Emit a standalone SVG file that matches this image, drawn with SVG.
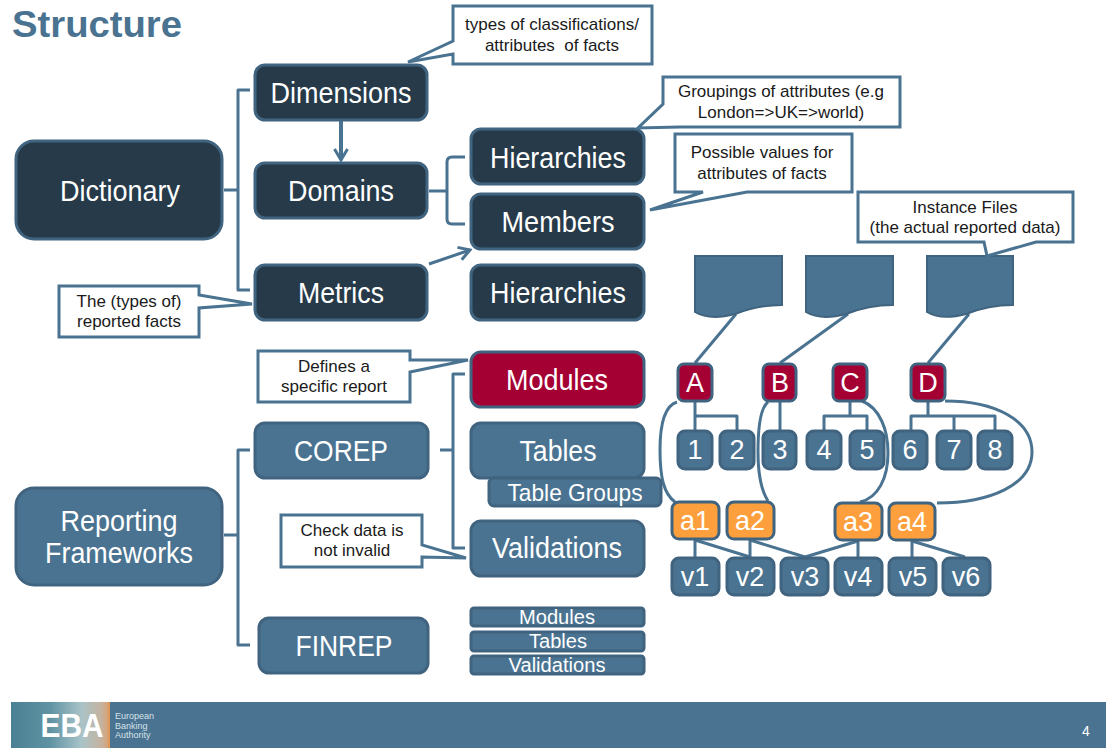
<svg xmlns="http://www.w3.org/2000/svg" width="1106" height="748" viewBox="0 0 1106 748">
<style>
text{font-family:"Liberation Sans",Arial,sans-serif;text-anchor:middle}
.dk rect,.dk path{fill:#263a49}
.md rect,.md path{fill:#4a7391}
.rd rect{fill:#a50034}
.or rect{fill:#fd9f3c}
.n rect{stroke:#40647f;stroke-width:3}
.n path{stroke:#40647f;stroke-width:2}
.t{fill:#fff;font-size:29px}
.u{fill:#fff;font-size:27px}
.c path{fill:#fff;stroke:#4a7391;stroke-width:3;stroke-linejoin:miter}
.c text{fill:#1a1a1a;font-size:17px}
.w{fill:none;stroke:#4a7391;stroke-width:3;stroke-linejoin:round}
.th{stroke-width:4}
</style>
<defs>
<marker id="ah" markerUnits="userSpaceOnUse" markerWidth="16" markerHeight="16" refX="14" refY="8" orient="auto"><path d="M3 1.5L14 8L3 14.5" fill="none" stroke="#4a7391" stroke-width="3"/></marker>
<linearGradient id="lg" x1="0" x2="1" y1="0" y2="0"><stop offset="0" stop-color="#4a8093"/><stop offset=".4" stop-color="#5f93a3"/><stop offset=".72" stop-color="#a9c3c8"/><stop offset=".92" stop-color="#c4b3a0"/><stop offset="1" stop-color="#d9a070"/></linearGradient>
</defs>
<text x="97" y="37" fill="#4a7391" font-size="36" font-weight="700" textLength="170" lengthAdjust="spacingAndGlyphs">Structure</text>
<g id="connectors">
<path class="w" d="M224 190H238M250 90H238V290H250"/>
<path class="w th" d="M341 121V160" marker-end="url(#ah)"/>
<path class="w" d="M429 191H447M465 157H452Q447 157 447 162V219Q447 224 452 224H465"/>
<path class="w" d="M429 264L470 250" marker-end="url(#ah)"/>
<path class="w" d="M224 535H238M250 450H238V645H250"/>
<path class="w" d="M440 450H453M465 374H453V548H465"/>
<path class="w" d="M736 314L695 363M848 314L780 363M969 314L928 363"/>
<path class="w" d="M695 402V430M695 416H737V430"/>
<path class="w" d="M780 402V430"/>
<path class="w" d="M850 402V416M824 430V416H867V430"/>
<path class="w" d="M928 402V416M911 430V416H995V430M954 416V430"/>
<path class="w" d="M677 402C664 406 660 425 660 450C660 478 664 494 675 502"/>
<path class="w" d="M768 402C760 408 758 430 758 452C758 475 761 490 768 501"/>
<path class="w" d="M862 401C880 408 888 430 888 453C888 478 878 498 860 502"/>
<path class="w" d="M945 401C995 401 1032 420 1032 452C1032 485 990 503 937 503"/>
<path class="w" d="M695 540V557M695 540L750 557M750 540V557M750 540L805 557M858 541V557M858 541L805 557M912 541V557M912 541L965 557"/>
</g>
<g id="dictionary" class="n dk"><rect x="16" y="141" width="206" height="98" rx="18"/><text class="t" x="120" y="201" textLength="120" lengthAdjust="spacingAndGlyphs">Dictionary</text></g>
<g id="dimensions" class="n dk"><rect x="255" y="65" width="172" height="55" rx="10"/><text class="t" x="341" y="103" textLength="141" lengthAdjust="spacingAndGlyphs">Dimensions</text></g>
<g id="domains" class="n dk"><rect x="255" y="163" width="172" height="55" rx="10"/><text class="t" x="341" y="201" textLength="106" lengthAdjust="spacingAndGlyphs">Domains</text></g>
<g id="metrics" class="n dk"><rect x="255" y="265" width="172" height="55" rx="10"/><text class="t" x="341" y="303" textLength="86" lengthAdjust="spacingAndGlyphs">Metrics</text></g>
<g id="hierarchies1" class="n dk"><rect x="471" y="129" width="173" height="55" rx="10"/><text class="t" x="558" y="168" textLength="136" lengthAdjust="spacingAndGlyphs">Hierarchies</text></g>
<g id="members" class="n dk"><rect x="471" y="194" width="173" height="55" rx="10"/><text class="t" x="558" y="232" textLength="113" lengthAdjust="spacingAndGlyphs">Members</text></g>
<g id="hierarchies2" class="n dk"><rect x="471" y="265" width="173" height="55" rx="10"/><text class="t" x="558" y="303" textLength="136" lengthAdjust="spacingAndGlyphs">Hierarchies</text></g>
<g id="modules" class="n rd"><rect x="471" y="352" width="173" height="55" rx="10"/><text class="t" x="557" y="390" textLength="102" lengthAdjust="spacingAndGlyphs">Modules</text></g>
<g id="tables" class="n md"><rect x="471" y="423" width="173" height="55" rx="10"/><text class="t" x="558" y="461" textLength="77" lengthAdjust="spacingAndGlyphs">Tables</text></g>
<g id="table-groups" class="n md"><rect x="489" y="478" width="172" height="28" rx="5"/><text x="575" y="501" fill="#fff" font-size="24" textLength="135" lengthAdjust="spacingAndGlyphs">Table Groups</text></g>
<g id="validations" class="n md"><rect x="471" y="521" width="173" height="55" rx="10"/><text class="t" x="557" y="558" textLength="130" lengthAdjust="spacingAndGlyphs">Validations</text></g>
<g id="reporting" class="n md"><rect x="16" y="488" width="206" height="97" rx="18"/><text class="t" x="119" y="531" textLength="117" lengthAdjust="spacingAndGlyphs">Reporting</text><text class="t" x="119" y="563" textLength="148" lengthAdjust="spacingAndGlyphs">Frameworks</text></g>
<g id="corep" class="n md"><rect x="255" y="423" width="173" height="55" rx="10"/><text class="t" x="341" y="461" textLength="94" lengthAdjust="spacingAndGlyphs">COREP</text></g>
<g id="finrep" class="n md"><rect x="259" y="618" width="169" height="55" rx="10"/><text class="t" x="344" y="656" textLength="97" lengthAdjust="spacingAndGlyphs">FINREP</text></g>
<g id="f-modules" class="n md"><rect x="471" y="608" width="173" height="18" rx="3"/><text x="557" y="624" fill="#fff" font-size="20" textLength="76" lengthAdjust="spacingAndGlyphs">Modules</text></g>
<g id="f-tables" class="n md"><rect x="471" y="632" width="173" height="19" rx="3"/><text x="558" y="648" fill="#fff" font-size="20" textLength="58" lengthAdjust="spacingAndGlyphs">Tables</text></g>
<g id="f-validations" class="n md"><rect x="471" y="656" width="173" height="18" rx="3"/><text x="557" y="672" fill="#fff" font-size="20" textLength="97" lengthAdjust="spacingAndGlyphs">Validations</text></g>
<g id="doc1" class="n md"><path d="M695 256H782V305C760 305 745 310 735 314C720 318 705 318 695 312Z"/></g>
<g id="doc2" class="n md"><path d="M806 256H893V305C871 305 856 310 846 314C831 318 816 318 806 312Z"/></g>
<g id="doc3" class="n md"><path d="M927 256H1013V305C991 305 976 310 966 314C951 318 937 318 927 312Z"/></g>
<g id="A" class="n rd"><rect x="678" y="364" width="34" height="37" rx="6"/><text class="u" x="695" y="392">A</text></g>
<g id="B" class="n rd"><rect x="763" y="364" width="33" height="37" rx="6"/><text class="u" x="780" y="392">B</text></g>
<g id="C" class="n rd"><rect x="833" y="364" width="34" height="37" rx="6"/><text class="u" x="850" y="392">C</text></g>
<g id="D" class="n rd"><rect x="911" y="364" width="34" height="37" rx="6"/><text class="u" x="928" y="392">D</text></g>
<g id="n1" class="n md"><rect x="678" y="431" width="34" height="38" rx="7"/><text class="u" x="695" y="459">1</text></g>
<g id="n2" class="n md"><rect x="720" y="431" width="34" height="38" rx="7"/><text class="u" x="737" y="459">2</text></g>
<g id="n3" class="n md"><rect x="763" y="431" width="33" height="38" rx="7"/><text class="u" x="780" y="459">3</text></g>
<g id="n4" class="n md"><rect x="807" y="431" width="34" height="38" rx="7"/><text class="u" x="824" y="459">4</text></g>
<g id="n5" class="n md"><rect x="850" y="431" width="34" height="38" rx="7"/><text class="u" x="867" y="459">5</text></g>
<g id="n6" class="n md"><rect x="893" y="431" width="34" height="38" rx="7"/><text class="u" x="910" y="459">6</text></g>
<g id="n7" class="n md"><rect x="937" y="431" width="34" height="38" rx="7"/><text class="u" x="954" y="459">7</text></g>
<g id="n8" class="n md"><rect x="978" y="431" width="34" height="38" rx="7"/><text class="u" x="995" y="459">8</text></g>
<g id="a1" class="n or"><rect x="672" y="502" width="47" height="37" rx="7"/><text class="u" x="695" y="530">a1</text></g>
<g id="a2" class="n or"><rect x="727" y="502" width="47" height="37" rx="7"/><text class="u" x="750" y="530">a2</text></g>
<g id="a3" class="n or"><rect x="835" y="503" width="47" height="37" rx="7"/><text class="u" x="858" y="531">a3</text></g>
<g id="a4" class="n or"><rect x="889" y="503" width="46" height="37" rx="7"/><text class="u" x="912" y="531">a4</text></g>
<g id="v1" class="n md"><rect x="672" y="558" width="47" height="37" rx="7"/><text class="u" x="695" y="586">v1</text></g>
<g id="v2" class="n md"><rect x="727" y="558" width="47" height="37" rx="7"/><text class="u" x="750" y="586">v2</text></g>
<g id="v3" class="n md"><rect x="781" y="558" width="47" height="37" rx="7"/><text class="u" x="805" y="586">v3</text></g>
<g id="v4" class="n md"><rect x="835" y="558" width="47" height="37" rx="7"/><text class="u" x="858" y="586">v4</text></g>
<g id="v5" class="n md"><rect x="889" y="558" width="47" height="37" rx="7"/><text class="u" x="913" y="586">v5</text></g>
<g id="v6" class="n md"><rect x="943" y="558" width="47" height="37" rx="7"/><text class="u" x="966" y="586">v6</text></g>
<g id="note-types" class="c"><path d="M453 6H652V64H453V54L408 62L453 41Z"/><text x="552" y="30">types of classifications/</text><text x="552" y="51" xml:space="preserve">attributes  of facts</text></g>
<g id="note-groupings" class="c"><path d="M663 77H900V127H680L638 128L663 104Z"/><text x="781" y="97">Groupings of attributes (e.g</text><text x="781" y="118">London=&gt;UK=&gt;world)</text></g>
<g id="note-values" class="c"><path d="M675 134H852V192H747L650 210L703 192H675Z"/><text x="762" y="158">Possible values for</text><text x="762" y="179">attributes of facts</text></g>
<g id="note-instance" class="c"><path d="M858 192H1073V242H1036L987 256L984 242H858Z"/><text x="965" y="213">Instance Files</text><text x="965" y="233">(the actual reported data)</text></g>
<g id="note-facts" class="c"><path d="M59 286H199V295L252 304L199 308V337H59Z"/><text x="129" y="307">The (types of)</text><text x="129" y="327">reported facts</text></g>
<g id="note-report" class="c"><path d="M258 351H410V360L468 360L410 372V402H258Z"/><text x="334" y="372">Defines a</text><text x="334" y="392">specific report</text></g>
<g id="note-check" class="c"><path d="M281 515H422V545L466 558L422 557V567H281Z"/><text x="352" y="536">Check data is</text><text x="352" y="556">not invalid</text></g>
<g id="footer">
<rect x="11" y="702" width="1095" height="46" fill="#4a7391"/>
<rect x="11" y="702" width="98" height="46" fill="url(#lg)"/>
<rect x="108" y="702" width="2" height="46" fill="#e0975a"/>
<text x="72" y="737" fill="#fff" font-size="34" font-weight="700" textLength="63" lengthAdjust="spacingAndGlyphs">EBA</text>
<text x="115" y="719" fill="#d5e2e8" font-size="9" style="text-anchor:start">European</text><text x="115" y="729" fill="#d5e2e8" font-size="9" style="text-anchor:start">Banking</text><text x="115" y="738" fill="#d5e2e8" font-size="9" style="text-anchor:start">Authority</text>
<text x="1086" y="736" fill="#fff" font-size="14">4</text>
</g>
</svg>
